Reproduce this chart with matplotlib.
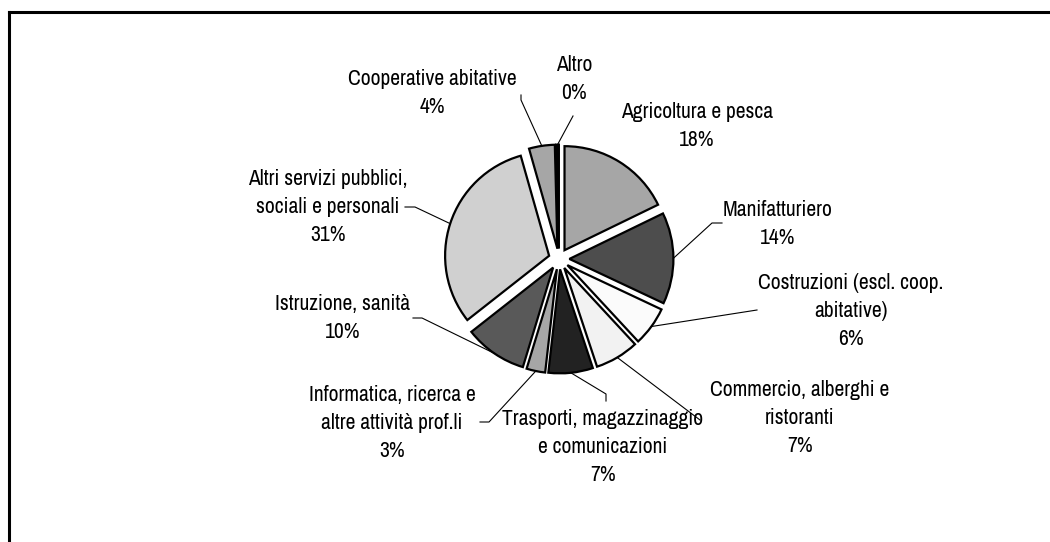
import numpy as np
import matplotlib
matplotlib.use('Agg')
import matplotlib.pyplot as plt
from matplotlib.lines import Line2D

# settori e quote (%)
settori = ['Agricoltura e pesca', 'Manifatturiero', 'Costruzioni (escl. coop.\nabitative)',
           'Commercio, alberghi e\nristoranti', 'Trasporti, magazzinaggio\ne comunicazioni',
           'Informatica, ricerca e\naltre attività prof.li', 'Istruzione, sanità',
           'Altri servizi pubblici,\nsociali e personali', 'Cooperative abitative', 'Altro']
quote = [17.8, 14.2, 6.1, 6.8, 6.9, 2.9, 9.7, 31.2, 4.0, 0.4]
colori = ['#a6a6a6', '#4d4d4d', '#fbfbfb', '#f2f2f2', '#222222',
          '#a6a6a6', '#595959', '#d0d0d0', '#a6a6a6', '#000000']

# posizione etichette (pixel, origine in alto a sinistra) e punto finale della linea guida
pos_etichette = [(697, 126), (778, 224), (851, 311), (800, 418), (603, 447),
                 (392, 423), (343, 318), (328, 207), (432, 93), (574, 79)]
guide = [None, [(722, 223), (712, 223)], [(757, 310)], [(700, 420)],
         [(606, 401), (606, 394)], [(480, 422), (489, 422)], [(413, 318), (422, 318)],
         [(405, 207), (415, 207)], [(521, 95), (521, 100)], [(573, 116)]]

plt.rcParams['font.family'] = ['Liberation Sans Narrow', 'Archivo Narrow', 'Liberation Sans', 'DejaVu Sans']

W, H = 1050, 542
fig = plt.figure(figsize=(W / 100, H / 100), dpi=100)
ax = fig.add_axes([0, 0, 1, 1])

cx, cy, r = 559, H - 259, 104
wedges, _ = ax.pie(quote, colors=colori, startangle=90, counterclock=False,
                   explode=[0.1 * r] * len(quote), radius=r, center=(cx, cy),
                   wedgeprops=dict(edgecolor='black', linewidth=1.6))
ax.set_xlim(0, W)
ax.set_ylim(0, H)
ax.set_aspect('equal')
ax.axis('off')

for w, lab, q, (lx, ly), g in zip(wedges, settori, quote, pos_etichette, guide):
    ax.text(lx, H - ly, f'{lab}\n{round(q):.0f}%', ha='center', va='center',
            fontsize=15.5, linespacing=1.5, color='black')
    if g is None:
        continue
    # punto sul bordo esterno del settore
    ang = np.deg2rad((w.theta1 + w.theta2) / 2)
    wx = w.center[0] + w.r * np.cos(ang)
    wy = w.center[1] + w.r * np.sin(ang)
    xs = [wx] + [p[0] for p in reversed(g)]
    ys = [wy] + [H - p[1] for p in reversed(g)]
    ax.plot(xs, ys, color='black', linewidth=0.8)

# cornice (solo lati sinistro e superiore visibili)
fig.add_artist(Line2D([9 / W, 9 / W], [0, 1 - 12 / H], color='black', linewidth=2.2,
                      transform=fig.transFigure))
fig.add_artist(Line2D([9 / W, 1], [1 - 12 / H, 1 - 12 / H], color='black', linewidth=2.2,
                      transform=fig.transFigure))

fig.savefig('out.png', dpi=100)
